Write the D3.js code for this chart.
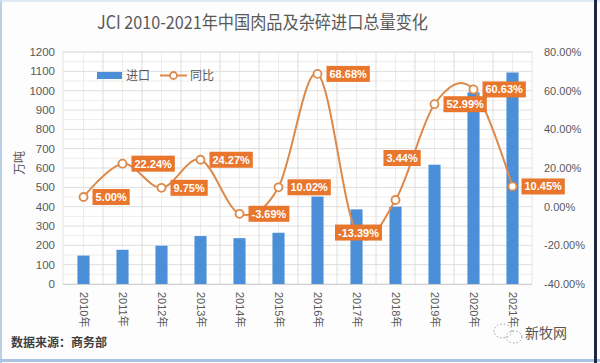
<!DOCTYPE html>
<html><head><meta charset="utf-8">
<script src="https://cdn.jsdelivr.net/npm/d3@7"></script>
<style>body{margin:0;background:#fff}svg{display:block}</style>
</head><body><svg id="c" width="600" height="363"></svg>
<script>
const years = ["2010年","2011年","2012年","2013年","2014年","2015年","2016年","2017年","2018年","2019年","2020年","2021年"];
const imports = [147,177,198,248,237,265,452,386,400,617,991,1094];
const yoy = [5.00,22.24,9.75,24.27,-3.69,10.02,68.68,-13.39,3.44,52.99,60.63,10.45];
const yoyLabels = ["5.00%","22.24%","9.75%","24.27%","-3.69%","10.02%","68.68%","-13.39%","3.44%","52.99%","60.63%","10.45%"];
const labelPlace = ["right","right","right","right","right","right","right","center","above","right","right","right"];
const leftTicks = d3.range(0,1201,100);
const rightTicks = [-40,-20,0,20,40,60,80];
const title = "JCI 2010-2021年中国肉品及杂碎进口总量变化";
const seriesNames = ["进口","同比"];
const yTitle = "万吨";
const source = "数据来源：商务部";

const svg = d3.select("#c");
const FONT = "'Liberation Sans','Noto Sans CJK SC',sans-serif";
const CJK = "'Noto Sans CJK SC',sans-serif";
const textCol = "#595959";
const barCol = "#4a8fd8";
const lineCol = "#dc8a4c";
const lblCol = "#e8762d";

const L=63,R=532,T=52,B=284;
// frame
svg.append("rect").attr("x",0).attr("y",0).attr("width",600).attr("height",363).attr("fill","#fdfdfd");
svg.append("line").attr("x1",1).attr("x2",1).attr("y1",0).attr("y2",363).attr("stroke","#b8cfe6").attr("stroke-width",2);
svg.append("line").attr("x1",0).attr("x2",600).attr("y1",360.5).attr("y2",360.5).attr("stroke","#a9c4e2").attr("stroke-width",3);
svg.append("line").attr("x1",0).attr("x2",600).attr("y1",1).attr("y2",1).attr("stroke","#d6e2ef").attr("stroke-width",1.5);
svg.append("line").attr("x1",595.5).attr("x2",595.5).attr("y1",0).attr("y2",363).attr("stroke","#1c2940").attr("stroke-width",3);

const x = d3.scaleBand().domain(years).range([L+1,R]).paddingInner(0.69).paddingOuter(0.345);
const yL = d3.scaleLinear().domain([0,1200]).range([B,T]);
const yR = d3.scaleLinear().domain([-40,80]).range([B,T]);

// plot bg + grid
svg.append("rect").attr("x",L).attr("y",T).attr("width",R-L).attr("height",B-T).attr("fill","#fff").attr("stroke","#e4e4e4");
const g = svg.append("g");
const minorY = d3.range(50,1200,100);
g.selectAll(".my").data(minorY).join("line").attr("x1",L).attr("x2",R)
  .attr("y1",d=>yL(d)).attr("y2",d=>yL(d)).attr("stroke","#f0ece8").attr("stroke-width",1);
const step = x.step();
const bounds = years.map((d,i)=>L+1+i*step);
g.selectAll(".mx").data(years).join("line")
  .attr("x1",d=>x(d)+x.bandwidth()/2).attr("x2",d=>x(d)+x.bandwidth()/2)
  .attr("y1",T).attr("y2",B).attr("stroke","#f0ece8");
g.selectAll(".gy").data(leftTicks.slice(1)).join("line").attr("x1",L).attr("x2",R)
  .attr("y1",d=>yL(d)).attr("y2",d=>yL(d)).attr("stroke","#dedede");
g.selectAll(".gx").data(bounds.slice(1)).join("line").attr("x1",d=>d).attr("x2",d=>d)
  .attr("y1",T).attr("y2",B).attr("stroke","#dedede");
svg.append("line").attr("x1",L).attr("x2",R).attr("y1",B+0.5).attr("y2",B+0.5).attr("stroke","#d0d0d0");

// axes labels
svg.append("g").selectAll("text").data(leftTicks).join("text")
  .attr("x",55).attr("y",d=>yL(d)+4).attr("text-anchor","end")
  .attr("font-family",FONT).attr("font-size",11.5).attr("fill",textCol).text(d=>d);
svg.append("g").selectAll("text").data(rightTicks).join("text")
  .attr("x",544).attr("y",d=>yR(d)+4).attr("text-anchor","start")
  .attr("font-family",FONT).attr("font-size",11).attr("fill",textCol).text(d=>d.toFixed(2)+"%");
svg.append("text").attr("transform","translate(24,163) rotate(-90)").attr("text-anchor","middle")
  .attr("font-family",CJK).attr("font-size",12).attr("fill",textCol).text(yTitle);
svg.append("g").selectAll("text").data(years).join("text")
  .attr("transform",d=>`translate(${x(d)+x.bandwidth()/2-4},292) rotate(90)`)
  .attr("font-family",FONT).attr("font-size",11).attr("fill",textCol).text(d=>d);

// bars
svg.append("g").selectAll("rect").data(years).join("rect")
  .attr("x",d=>x(d)).attr("width",x.bandwidth())
  .attr("y",(d,i)=>yL(imports[i])).attr("height",(d,i)=>B-yL(imports[i])).attr("fill",barCol);

// line
const pts = years.map((d,i)=>[x(d)+x.bandwidth()/2, yR(yoy[i])]);
svg.append("path").attr("d",d3.line().curve(d3.curveCardinal.tension(0))(pts))
  .attr("fill","none").attr("stroke",lineCol).attr("stroke-width",2);
svg.append("g").selectAll("circle").data(pts).join("circle")
  .attr("cx",d=>d[0]).attr("cy",d=>d[1]).attr("r",4).attr("fill","#fff").attr("stroke",lineCol).attr("stroke-width",1.8);

// labels
const lg = svg.append("g");
pts.forEach((p,i)=>{
  const gg = lg.append("g");
  const t = gg.append("text").attr("font-family",FONT).attr("font-size",11).attr("font-weight","bold")
    .attr("fill","#fff").text(yoyLabels[i]);
  const w = t.node().getComputedTextLength()+6, h=16;
  let bx, by;
  if(labelPlace[i]==="right"){bx=p[0]+9; by=p[1]-h/2;}
  else if(labelPlace[i]==="above"){bx=p[0]-12; by=p[1]-50;}
  else {bx=p[0]-w/2+2; by=p[1]-8;}
  gg.insert("rect","text").attr("x",bx).attr("y",by).attr("width",w).attr("height",h).attr("fill",lblCol);
  t.attr("x",bx+3).attr("y",by+12);
});

// legend
svg.append("rect").attr("x",97).attr("y",72).attr("width",25).attr("height",7).attr("fill",barCol);
svg.append("text").attr("x",126).attr("y",80).attr("font-family",CJK).attr("font-size",12).attr("fill",textCol).text(seriesNames[0]);
svg.append("line").attr("x1",160).attr("x2",187).attr("y1",75.5).attr("y2",75.5).attr("stroke",lineCol).attr("stroke-width",2);
svg.append("circle").attr("cx",173.5).attr("cy",75.5).attr("r",3.5).attr("fill","#fff").attr("stroke",lineCol).attr("stroke-width",1.8);
svg.append("text").attr("x",190).attr("y",80).attr("font-family",CJK).attr("font-size",12).attr("fill",textCol).text(seriesNames[1]);

// title
svg.append("text").attr("x",97).attr("y",29).attr("textLength",331).attr("lengthAdjust","spacingAndGlyphs")
  .attr("font-family",CJK).attr("font-size",18).attr("fill",textCol).text(title);

// source
svg.append("text").attr("x",11).attr("y",347).attr("font-family",CJK).attr("font-size",12).attr("font-weight","bold")
  .attr("fill","#404040").text(source);

// watermark
const wm = svg.append("g").attr("fill","none").attr("stroke","#9a9a9a").attr("stroke-width",1).attr("stroke-dasharray","1.5,2");
wm.append("ellipse").attr("cx",503).attr("cy",331).attr("rx",9).attr("ry",7);
wm.append("ellipse").attr("cx",514).attr("cy",337).attr("rx",8).attr("ry",6);
svg.append("text").attr("x",525).attr("y",338).attr("font-family",CJK).attr("font-size",14).attr("fill","#555")
  .text("新牧网");
</script></body></html>
